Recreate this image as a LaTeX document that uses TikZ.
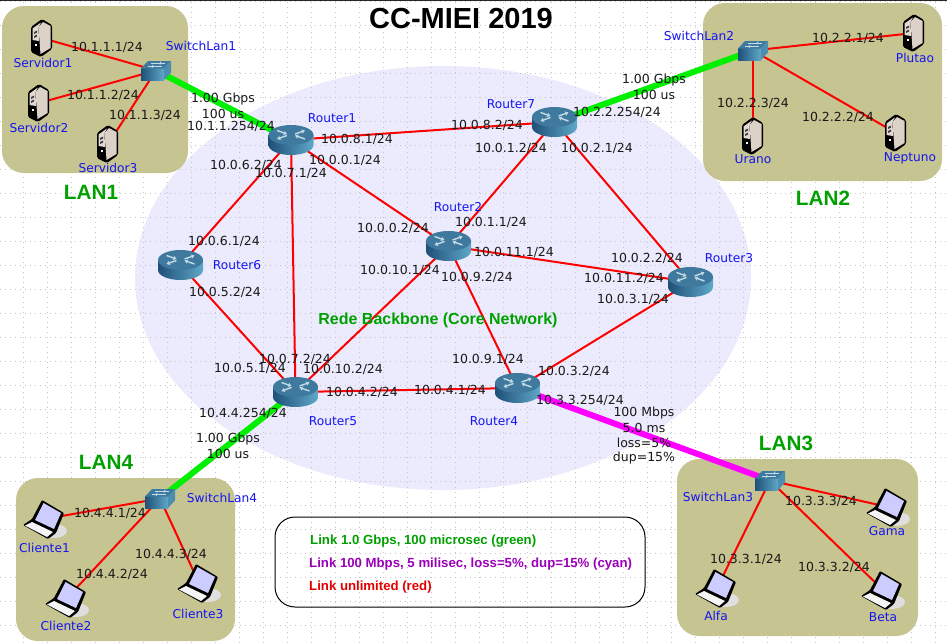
\documentclass[tikz,border=0pt]{standalone}
\usepackage{fontspec}
\setmainfont{DejaVu Sans}
\newfontfamily\arialfont{Liberation Sans}
\usetikzlibrary{arrows.meta, backgrounds}
\definecolor{lancaqui}{HTML}{C2BF88}
\definecolor{lilas}{HTML}{EBEBFD}
\definecolor{verdelink}{HTML}{00F000}
\definecolor{verdetexto}{HTML}{00A000}
\definecolor{magenta}{HTML}{FF00FF}
\definecolor{roxo}{HTML}{9A00B8}
\definecolor{azulnome}{HTML}{1414F0}
\definecolor{azulesc}{HTML}{1F4F78}
\definecolor{azulmed}{HTML}{3F7A9E}
\definecolor{azulcla}{HTML}{5FA8C8}
\definecolor{seta}{HTML}{C4DCE6}
\definecolor{bege}{HTML}{DCD2C8}
\definecolor{pontos}{HTML}{C4C4C4}
\tikzset{
  rede/.style={x=1pt, y=-1pt},
  seta1/.style={seta, line width=1.4pt, -{Stealth[length=3.5pt,width=4.5pt]}},
  roteador/.style={inner sep=0pt, minimum width=46pt, minimum height=31pt, path picture={
    \begin{scope}[shift={(path picture bounding box.center)}]
      \shade[left color=azulesc, right color=azulcla] (-22.5,-5) rectangle (22.5,5) (0,5) ellipse (22.5pt and 10pt);
      \fill[azulmed] (0,-5) ellipse (22.5pt and 10pt);
      \draw[seta1] (-14,-9.5) -- (-4,-6);
      \draw[seta1] (-4,-4.5) -- (-14,-1);
      \draw[seta1] (4,-6) -- (14,-9.5);
      \draw[seta1] (14,-1) -- (4,-4.5);
    \end{scope}}},
  comutador/.style={inner sep=0pt, minimum width=31pt, minimum height=20pt, path picture={
    \begin{scope}[shift={(path picture bounding box.center)}]
      \shade[left color=azulesc, right color=azulcla] (-15,-2) rectangle (8,9.5);
      \fill[azulmed] (-15,-2) -- (-8,-9.5) -- (15,-9.5) -- (8,-2) -- cycle;
      \fill[azulcla!70!azulesc] (8,-2) -- (15,-9.5) -- (15,2) -- (8,9.5) -- cycle;
      \draw[seta, line width=0.8pt] (-8,-4) -- (6,-4) (-5,-7.5) -- (9,-7.5);
      \draw[seta, line width=0.8pt] (-4,-2.5) -- (-3,-5.5) (4,-6) -- (5,-9);
    \end{scope}}},
  servidor/.style={inner sep=0pt, minimum width=24pt, minimum height=40pt, path picture={
    \begin{scope}[shift={(path picture bounding box.center)}]
      \fill[black, rounded corners=1.5pt] (-11,-11) -- (0,-19) -- (10,-13) -- (10,11) -- (-1,19) -- (-11,14) -- cycle;
      \fill[bege] (-3.5,-11) -- (1,-16) -- (8.5,-12) -- (8.5,10) -- (-1.5,16) -- cycle;
      \fill[bege!80!white] (-9.5,-9.5) -- (-1,-15.5) -- (-3.5,-11) -- (-3,3) -- (-9.5,2) -- cycle;
      \fill[black!75] (-8,-6) -- (-5,-7.5) -- (-5,-5.5) -- (-8,-4) -- cycle;
      \fill[black!75] (-8,-2) -- (-5,-3.5) -- (-5,-1.5) -- (-8,0) -- cycle;
      \fill[white] (-7,6) rectangle (-5,8);
    \end{scope}}},
  portatil/.style={inner sep=0pt, minimum width=46pt, minimum height=40pt, path picture={
    \begin{scope}[shift={(path picture bounding box.center)}]
      \fill[gray!25] (9,12) ellipse (13pt and 7pt);
      \fill[black, rounded corners=1pt] (-3,-19) -- (19,-6) -- (11,14) -- (3,20) -- (-22,6) -- (-13,0) -- cycle;
      \fill[white!80!blue] (-1.5,-16) -- (16,-6) -- (9,10) -- (-10,1) -- cycle;
      \fill[white!92!gray] (-13,3) -- (8,13) -- (2,18) -- (-20,6.5) -- cycle;
    \end{scope}}},
  lanbox/.style={fill=lancaqui, fill opacity=0.92, draw=none, rounded corners=22pt},
  grelha/.style={draw=pontos, line width=1pt, dash pattern=on 1pt off 4pt},
  linkvermelho/.style={red, line width=2pt},
  linkverde/.style={verdelink, line width=6pt},
  linkmagenta/.style={magenta, line width=6pt},
  endereco/.style={inner sep=0pt, font=\fontsize{12.5}{14}\selectfont, text=black!90},
  nome/.style={inner sep=0pt, font=\fontsize{12.2}{14}\selectfont, text=azulnome},
  lantitulo/.style={inner sep=0pt, font=\arialfont\bfseries\fontsize{20.7}{24}\selectfont, text=verdetexto},
  legenda/.style={inner sep=0pt, anchor=west, font=\arialfont\bfseries\fontsize{13.2}{15}\selectfont}
}
\begin{document}
\begin{tikzpicture}[rede]
  \useasboundingbox (0,0) rectangle (947,643);
  \node (r1) [roteador] at (291,140) {};
  \node (r2) [roteador] at (448.5,246) {};
  \node (r3) [roteador] at (690.5,282) {};
  \node (r4) [roteador] at (517.5,388) {};
  \node (r5) [roteador] at (295.5,392) {};
  \node (r6) [roteador] at (180.5,265) {};
  \node (r7) [roteador] at (554.5,122) {};
  \node (sw1) [comutador] at (156,70.5) {};
  \node (sw2) [comutador] at (753,50.5) {};
  \node (sw3) [comutador] at (770,480.5) {};
  \node (sw4) [comutador] at (160,498.5) {};
  \node (s1) [servidor] at (42,38) {};
  \node (s2) [servidor] at (39,103) {};
  \node (s3) [servidor] at (108,144) {};
  \node (plutao) [servidor] at (914,33) {};
  \node (urano) [servidor] at (753,136) {};
  \node (neptuno) [servidor] at (896,133) {};
  \node (c1) [portatil] at (45,519) {};
  \node (c2) [portatil] at (67,598) {};
  \node (c3) [portatil] at (199,583) {};
  \node (alfa) [portatil] at (717,588) {};
  \node (beta) [portatil] at (883,590) {};
  \node (gama) [portatil] at (888,507) {};

  \begin{scope}[on background layer]
    \fill[white] (0,0) rectangle (947,643);
    \fill[lilas] (443,278) ellipse (308pt and 212pt);
    \foreach \gx in {0,...,38} {\draw[grelha] (23.5+24*\gx,2) -- (23.5+24*\gx,643);}
    \foreach \gy in {0,...,26} {\draw[grelha] (0,1.5+24*\gy) -- (947,1.5+24*\gy);}
    \fill[lanbox] (2,6) rectangle (188,173);
    \fill[lanbox] (703,3) rectangle (942,181);
    \fill[lanbox] (677,459) rectangle (918,636);
    \fill[lanbox] (16,478) rectangle (235,641);
    \draw[black!85, line width=1.5pt] (0,0.7) -- (947,0.7);
    \draw [linkverde] (sw1.center) -- (r1.center);
    \draw [linkverde] (sw2.center) -- (r7.center);
    \draw [linkverde] (sw4.center) -- (r5.center);
    \draw [linkmagenta] (sw3.center) -- (r4.center);
    \draw [linkvermelho] (r1.center) -- (r7.center);
    \draw [linkvermelho] (r1.center) -- (r2.center);
    \draw [linkvermelho] (r1.center) -- (r6.center);
    \draw [linkvermelho] (r1.center) -- (r5.center);
    \draw [linkvermelho] (r7.center) -- (r2.center);
    \draw [linkvermelho] (r7.center) -- (r3.center);
    \draw [linkvermelho] (r2.center) -- (r3.center);
    \draw [linkvermelho] (r2.center) -- (r4.center);
    \draw [linkvermelho] (r2.center) -- (r5.center);
    \draw [linkvermelho] (r3.center) -- (r4.center);
    \draw [linkvermelho] (r4.center) -- (r5.center);
    \draw [linkvermelho] (r5.center) -- (r6.center);
    \draw [linkvermelho] (sw1.center) -- (s1.center);
    \draw [linkvermelho] (sw1.center) -- (s2.center);
    \draw [linkvermelho] (sw1.center) -- (s3.center);
    \draw [linkvermelho] (sw2.center) -- (plutao.center);
    \draw [linkvermelho] (sw2.center) -- (urano.center);
    \draw [linkvermelho] (sw2.center) -- (neptuno.center);
    \draw [linkvermelho] (sw3.center) -- (alfa.center);
    \draw [linkvermelho] (sw3.center) -- (beta.center);
    \draw [linkvermelho] (sw3.center) -- (gama.center);
    \draw [linkvermelho] (sw4.center) -- (c1.center);
    \draw [linkvermelho] (sw4.center) -- (c2.center);
    \draw [linkvermelho] (sw4.center) -- (c3.center);
  \end{scope}

  \node (titulo) [inner sep=0pt, font=\arialfont\bfseries\fontsize{29}{32}\selectfont] at (461,19) {CC-MIEI 2019};
  \node (lan1) [lantitulo] at (91,192) {LAN1};
  \node (lan2) [lantitulo] at (823,198) {LAN2};
  \node (lan3) [lantitulo] at (786,443) {LAN3};
  \node (lan4) [lantitulo] at (106,462) {LAN4};
  \node (core) [lantitulo, font=\arialfont\bfseries\fontsize{16}{18}\selectfont] at (438,320) {Rede Backbone (Core Network)};

  \node (nr1) [nome] at (332,118) {Router1};
  \node (nr2) [nome] at (458,207) {Router2};
  \node (nr3) [nome] at (729,258.5) {Router3};
  \node (nr4) [nome] at (494,421) {Router4};
  \node (nr5) [nome] at (333,421.5) {Router5};
  \node (nr6) [nome] at (237,265) {Router6};
  \node (nr7) [nome] at (511,104) {Router7};
  \node (nsw1) [nome] at (201,46) {SwitchLan1};
  \node (nsw2) [nome] at (699,35.5) {SwitchLan2};
  \node (nsw3) [nome] at (718,497) {SwitchLan3};
  \node (nsw4) [nome] at (222,498) {SwitchLan4};
  \node (ns1) [nome] at (43,63) {Servidor1};
  \node (ns2) [nome] at (39,128) {Servidor2};
  \node (ns3) [nome] at (108,168) {Servidor3};
  \node (nplutao) [nome] at (915,58) {Plutao};
  \node (nurano) [nome] at (753,159.5) {Urano};
  \node (nneptuno) [nome] at (910,158.5) {Neptuno};
  \node (nc1) [nome] at (44.5,548) {Cliente1};
  \node (nc2) [nome] at (66,625.5) {Cliente2};
  \node (nc3) [nome] at (198,613.5) {Cliente3};
  \node (nalfa) [nome] at (716,616) {Alfa};
  \node (nbeta) [nome] at (883,617.5) {Beta};
  \node (ngama) [nome] at (887,531.5) {Gama};

  \node (e1) [endereco] at (107,47.5) {10.1.1.1/24};
  \node (e2) [endereco] at (103,95) {10.1.1.2/24};
  \node (e3) [endereco] at (145,115.5) {10.1.1.3/24};
  \node (e4) [endereco] at (223,99) {1.00 Gbps};
  \node (e5) [endereco] at (223,114) {100 us};
  \node (e6) [endereco] at (231,126) {10.1.1.254/24};
  \node (e7) [endereco] at (246,165.5) {10.0.6.2/24};
  \node (e8) [endereco] at (291,173.5) {10.0.7.1/24};
  \node (e9) [endereco] at (357,139) {10.0.8.1/24};
  \node (e10) [endereco] at (345,160) {10.0.0.1/24};
  \node (e11) [endereco] at (487,125) {10.0.8.2/24};
  \node (e12) [endereco] at (511,148) {10.0.1.2/24};
  \node (e13) [endereco] at (597,148) {10.0.2.1/24};
  \node (e14) [endereco] at (617,112) {10.2.2.254/24};
  \node (e15) [endereco] at (654,80) {1.00 Gbps};
  \node (e16) [endereco] at (654,95) {100 us};
  \node (e17) [endereco] at (848,38) {10.2.2.1/24};
  \node (e18) [endereco] at (753,103) {10.2.2.3/24};
  \node (e19) [endereco] at (838,117) {10.2.2.2/24};
  \node (e20) [endereco] at (393,228) {10.0.0.2/24};
  \node (e21) [endereco] at (491,222) {10.0.1.1/24};
  \node (e22) [endereco] at (514,252) {10.0.11.1/24};
  \node (e23) [endereco] at (400,270) {10.0.10.1/24};
  \node (e24) [endereco] at (477,277) {10.0.9.2/24};
  \node (e25) [endereco] at (647,258) {10.0.2.2/24};
  \node (e26) [endereco] at (624,278) {10.0.11.2/24};
  \node (e27) [endereco] at (633,299) {10.0.3.1/24};
  \node (e28) [endereco] at (224,241) {10.0.6.1/24};
  \node (e29) [endereco] at (225,292) {10.0.5.2/24};
  \node (e30) [endereco] at (295,359) {10.0.7.2/24};
  \node (e31) [endereco] at (343,369) {10.0.10.2/24};
  \node (e32) [endereco] at (250,368) {10.0.5.1/24};
  \node (e33) [endereco] at (362,392) {10.0.4.2/24};
  \node (e34) [endereco] at (450,390) {10.0.4.1/24};
  \node (e35) [endereco] at (488,359) {10.0.9.1/24};
  \node (e36) [endereco] at (574,371) {10.0.3.2/24};
  \node (e37) [endereco] at (580,400) {10.3.3.254/24};
  \node (e38) [endereco] at (644,413) {100 Mbps};
  \node (e39) [endereco] at (644,428) {5.0 ms};
  \node (e40) [endereco] at (644,443) {loss=5\%};
  \node (e41) [endereco] at (644,458) {dup=15\%};
  \node (e42) [endereco] at (243,413) {10.4.4.254/24};
  \node (e43) [endereco] at (228,439) {1.00 Gbps};
  \node (e44) [endereco] at (228,454) {100 us};
  \node (e45) [endereco] at (110,513) {10.4.4.1/24};
  \node (e46) [endereco] at (112,574) {10.4.4.2/24};
  \node (e47) [endereco] at (171,554) {10.4.4.3/24};
  \node (e48) [endereco] at (821,501) {10.3.3.3/24};
  \node (e49) [endereco] at (746,559) {10.3.3.1/24};
  \node (e50) [endereco] at (834,567) {10.3.3.2/24};

  \draw[black, line width=1pt, rounded corners=20pt] (275,517) rectangle (645,607);
  \node (leg1) [legenda, text=verdetexto] at (310,541) {Link 1.0 Gbps, 100 microsec (green)};
  \node (leg2) [legenda, text=roxo] at (309,564) {Link 100 Mbps, 5 milisec, loss=5\%, dup=15\% (cyan)};
  \node (leg3) [legenda, text=red!90!black] at (309,587) {Link unlimited (red)};
\end{tikzpicture}
\end{document}
